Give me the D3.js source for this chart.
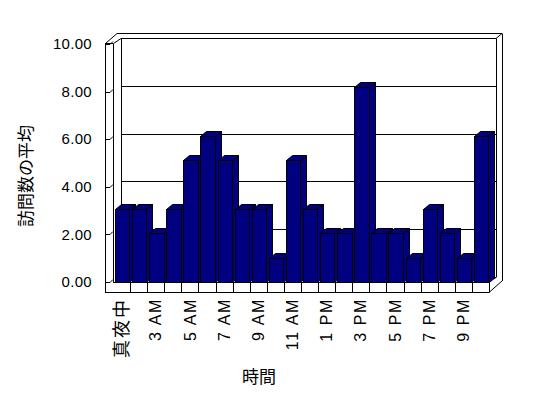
<!DOCTYPE html>
<html><head><meta charset="utf-8">
<script src="https://cdn.jsdelivr.net/npm/d3@7"></script>
<style>
html,body{margin:0;padding:0;background:#fff;}
svg{display:block;}
text{font-family:"Liberation Sans",Arial,sans-serif;fill:#000;}
.cjk{font-family:"Noto Sans CJK JP","Noto Sans CJK SC",sans-serif;}
</style></head>
<body>
<script>
const categories = ["真夜中","1 AM","3 AM","4 AM","5 AM","6 AM","7 AM","8 AM","9 AM","10 AM","11 AM","12 PM","1 PM","2 PM","3 PM","4 PM","5 PM","6 PM","7 PM","8 PM","9 PM","10 PM"];
const values = [3,3,2,3,5,6,5,3,3,1,5,3,2,2,8,2,2,1,3,2,1,6];
const yTicks = [0,2,4,6,8,10];
const yTitle = "訪問数の平均";
const xTitle = "時間";

const W = 548, H = 398;
const svg = d3.select("body").append("svg").attr("width", W).attr("height", H);

const x = d3.scaleBand().domain(categories).range([113, 489]).paddingInner(0).paddingOuter(0);
const yBar = d3.scaleLinear().domain([0, 10]).range([282, 38]);
const yWall = d3.scaleLinear().domain([0, 10]).range([277, 38]);
const yFront = d3.scaleLinear().domain([0, 10]).range([282, 44]);
const dx = 6, dy = -5;
const barColor = "#000080";
const p = v => Math.round(v) + 0.5;

const g = svg.append("g").attr("fill", "none").attr("stroke", "#000").attr("stroke-width", 1);
const line = (pts) => g.append("path").attr("d", d3.line()(pts));

// back wall gridlines
yTicks.forEach(t => line([[121, p(yWall(t))], [496, p(yWall(t))]]));
// back wall frame
line([[p(121), 38.5], [p(121), 277]]);
line([[121, 38.5], [496, 38.5]]);
line([[117, 33.5], [502, 33.5]]);
line([[p(496), 38.5], [p(496), 277.5]]);
line([[p(502), 33.5], [p(502), 281]]);
line([[496, 38.5], [502, 33.5]]);
line([[496, 277.5], [489, 282.5]]);
line([[502, 281], [489.5, 292]]);
// left wall
line([[p(105), 43.5], [p(105), 292]]);
line([[p(113), 43.5], [p(113), 282]]);
line([[105, 43.5], [113, 43.5]]);
line([[105.5, 43.5], [117, 33.5]]);
line([[113.5, 43.5], [121, 38.5]]);
// left wall tick marks
yTicks.forEach(t => {
  const yy = p(yFront(t));
  line([[105, yy], [110, yy], [113, yy - 3]]);
});
// floor slab front
line([[105, 292.5], [p(489), 292.5]]);
line([[113, 282.5], [p(489), 282.5]]);
line([[p(489), 282.5], [p(489), 292.5]]);
categories.forEach((c, i) => {
  if (i > 0) line([[p(x(c)), 282.5], [p(x(c)), 292.5]]);
});

// bars
const bw = x.bandwidth() * 0.84;
const bars = svg.append("g").attr("stroke", "#000").attr("stroke-width", 1).attr("fill", barColor).attr("stroke-linejoin", "miter");
categories.forEach((c, i) => {
  const v = values[i];
  const x0 = Math.round(x(c) + 2) + 0.5;
  const x1 = Math.round(x(c) + 2 + bw) + 0.5;
  const yt = Math.round(yBar(v)) + 0.5;
  const yb = 282.5;
  const bg = bars.append("g");
  bg.append("path").attr("d", d3.line()([[x1, yt], [x1 + dx, yt + dy], [x1 + dx, yb + dy], [x1, yb]]) + "Z");
  bg.append("path").attr("d", d3.line()([[x0, yt], [x0 + dx, yt + dy], [x1 + dx, yt + dy], [x1, yt]]) + "Z");
  bg.append("rect").attr("x", x0).attr("y", yt).attr("width", x1 - x0).attr("height", yb - yt);
});

// y tick labels
svg.append("g").selectAll("text").data(yTicks).join("text")
  .attr("x", 92).attr("y", d => yFront(d)).attr("dy", "0.35em")
  .attr("text-anchor", "end").attr("font-size", 15).attr("letter-spacing", 0.3)
  .text(d => d3.format(".2f")(d));

// x tick labels (every other category)
const isCjk = d => /[^\x00-\x7f]/.test(d);
svg.append("g").selectAll("text").data(categories.filter((c, i) => i % 2 === 0)).join("text")
  .attr("class", d => isCjk(d) ? "cjk" : null)
  .attr("transform", d => `translate(${x(d) + x.bandwidth() / 2},298) rotate(-90)`)
  .attr("dy", "0.35em").attr("text-anchor", "end")
  .attr("font-size", d => isCjk(d) ? 18 : 16)
  .attr("letter-spacing", d => isCjk(d) ? 2 : 1.6)
  .text(d => d);

// axis titles
svg.append("text").attr("class", "cjk")
  .attr("transform", "translate(26,176) rotate(-90)")
  .attr("dy", "0.35em").attr("text-anchor", "middle").attr("font-size", 17)
  .text(yTitle);
svg.append("text").attr("class", "cjk")
  .attr("x", 259).attr("y", 377).attr("dy", "0.35em")
  .attr("text-anchor", "middle").attr("font-size", 17)
  .text(xTitle);
</script>
</body></html>
